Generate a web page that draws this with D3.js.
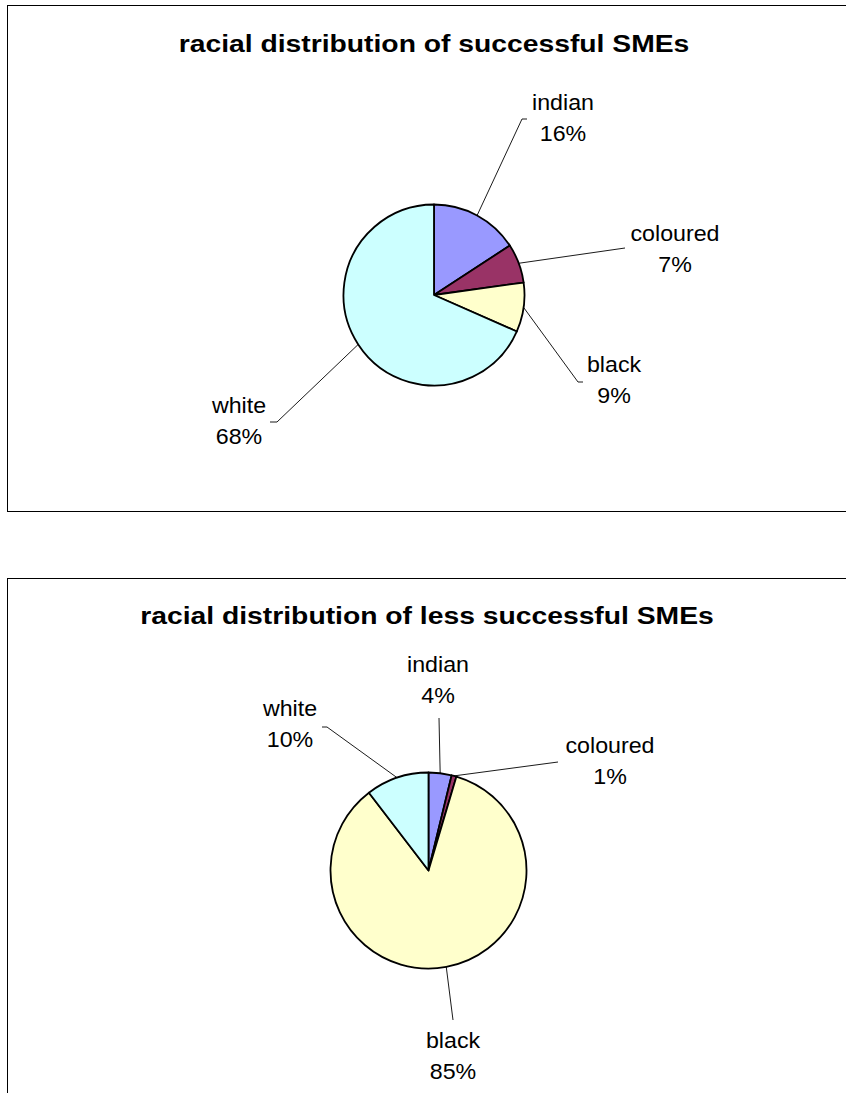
<!DOCTYPE html>
<html>
<head>
<meta charset="utf-8">
<script src="https://cdn.jsdelivr.net/npm/d3@7"></script>
<style>
  html, body { margin: 0; padding: 0; background: #fff; }
  svg { display: block; }
  text { font-family: "Liberation Sans", Arial, Helvetica, sans-serif; fill: #000; }
</style>
</head>
<body>
<svg id="chart" width="846" height="1093"></svg>
<script>
// ---- Data ----
const categories1 = ["indian", "coloured", "black", "white"];
const values1 = [15.8, 7.0, 8.8, 68.4];
const title1 = "racial distribution of successful SMEs";

const categories2 = ["indian", "coloured", "black", "white"];
const values2 = [3.8, 0.8, 85.0, 10.4];
const title2 = "racial distribution of less successful SMEs";

const sliceColors = {indian: "#9999FF", coloured: "#993366", black: "#FFFFCC", white: "#CCFFFF"};

// ---- Layout (positions / sizes) ----
const layout = [
  {
    frame: {x: 7.5, y: 5.5, w: 860, h: 506},
    titleX: 434, titleY: 52,
    cx: 434, cy: 295, r: 90.5,
    labels: {
      indian:   {x: 563, y: 110, end: [522, 119], tick: 5},
      coloured: {x: 675, y: 241, end: [625, 248], tick: 0},
      black:    {x: 614, y: 372, end: [578, 382], tick: 5},
      white:    {x: 239, y: 413, end: [277, 422], tick: -7}
    }
  },
  {
    frame: {x: 7.5, y: 578.5, w: 860, h: 540},
    titleX: 427, titleY: 624,
    cx: 428.5, cy: 870.5, r: 98,
    labels: {
      indian:   {x: 438, y: 672, end: [439, 718], tick: 0},
      coloured: {x: 610, y: 753, end: [558, 762], tick: 0},
      black:    {x: 453, y: 1048, end: [453, 1020], tick: 0},
      white:    {x: 290, y: 716, end: [327, 727], tick: -5}
    }
  }
];

const svg = d3.select("#chart");

function drawPie(idx, cats, vals, title) {
  const L = layout[idx];
  const g = svg.append("g");

  g.append("rect")
    .attr("x", L.frame.x).attr("y", L.frame.y)
    .attr("width", L.frame.w).attr("height", L.frame.h)
    .attr("fill", "#fff").attr("stroke", "#000").attr("stroke-width", 1);

  g.append("g")
    .attr("transform", `translate(${L.titleX},${L.titleY}) scale(1.23,1)`)
    .append("text")
    .attr("text-anchor", "middle")
    .attr("font-size", 23)
    .attr("font-weight", "bold")
    .text(title);

  const data = cats.map((c, i) => ({cat: c, value: vals[i]}));
  const pie = d3.pie().value(d => d.value).sort(null);
  const arcs = pie(data);
  const arc = d3.arc().innerRadius(0).outerRadius(L.r);

  const pg = g.append("g").attr("transform", `translate(${L.cx},${L.cy})`);
  pg.selectAll("path.slice")
    .data(arcs)
    .join("path")
    .attr("class", "slice")
    .attr("d", arc)
    .attr("fill", d => sliceColors[d.data.cat])
    .attr("stroke", "#000")
    .attr("stroke-width", 1.8)
    .attr("stroke-linejoin", "round");

  // leader lines + labels
  arcs.forEach(a => {
    const lab = L.labels[a.data.cat];
    const mid = (a.startAngle + a.endAngle) / 2;
    const sx = L.cx + L.r * Math.sin(mid);
    const sy = L.cy - L.r * Math.cos(mid);
    const pts = [[sx, sy], lab.end];
    if (lab.tick) pts.push([lab.end[0] + lab.tick, lab.end[1]]);
    g.append("path")
      .attr("d", d3.line()(pts))
      .attr("fill", "none")
      .attr("stroke", "#000")
      .attr("stroke-width", 0.9);

    const t1 = g.append("g").attr("transform", `translate(${lab.x},${lab.y}) scale(1.08,1)`);
    t1.append("text").attr("text-anchor", "middle").attr("font-size", 21.5).text(a.data.cat);
    const t2 = g.append("g").attr("transform", `translate(${lab.x},${lab.y + 31}) scale(1.08,1)`);
    t2.append("text").attr("text-anchor", "middle").attr("font-size", 21.5)
      .text(Math.round(a.data.value) + "%");
  });
}

drawPie(0, categories1, values1, title1);
drawPie(1, categories2, values2, title2);
</script>
</body>
</html>
